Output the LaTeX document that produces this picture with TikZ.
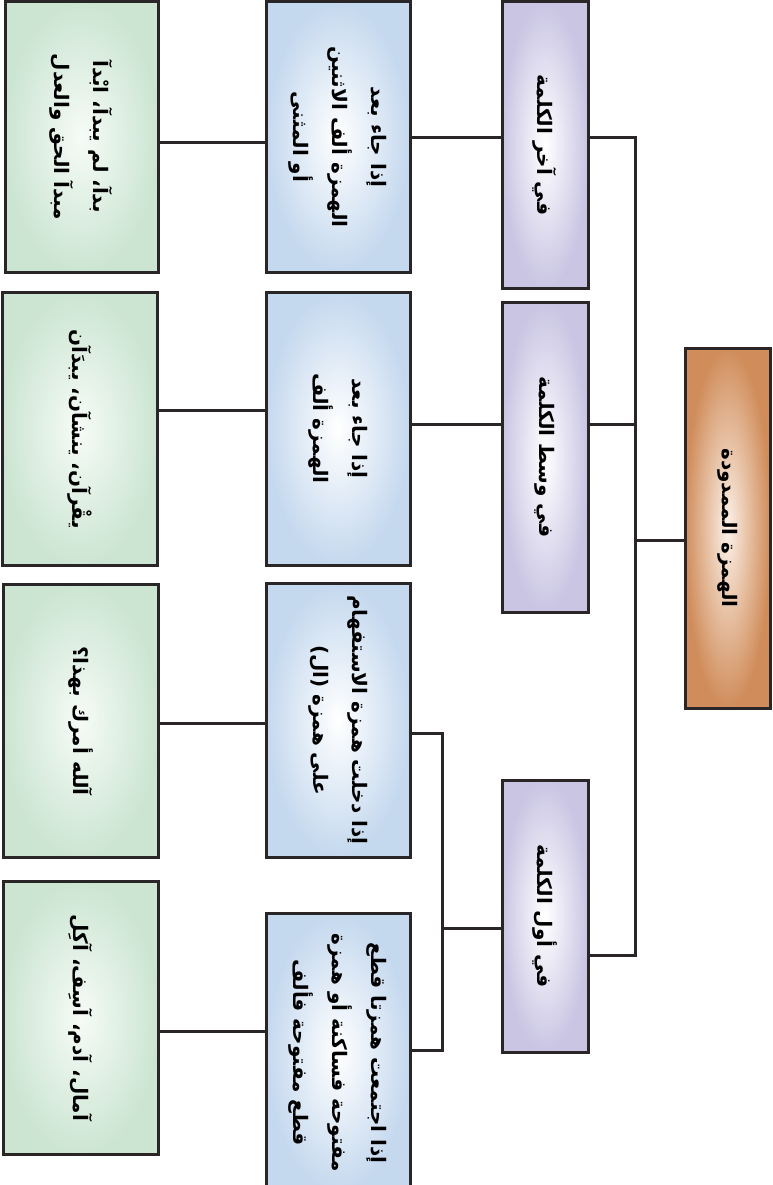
\documentclass[tikz,border=0pt]{standalone}
\usepackage{fontspec}
\newfontfamily\arabicfont[Script=Arabic,BoldFont={DejaVu Sans Bold}]{DejaVu Sans}
\TeXXeTstate=1
\newcommand\ar[1]{\beginR #1\endR}
\definecolor{edge}{HTML}{2A2627}
\definecolor{rootc}{HTML}{D08D5B}
\definecolor{rootin}{HTML}{FCF1E8}
\definecolor{placec}{HTML}{C9C5E3}
\definecolor{rulec}{HTML}{C4D8EE}
\definecolor{examplec}{HTML}{CCE5D2}
\definecolor{examplein}{HTML}{F6FBF7}

\begin{document}
\begin{tikzpicture}[x=1pt,y=-1pt,
    box/.style={draw=edge,line width=3pt,rotate=-90,align=center,shade,shading=radial,
      inner color=white,inner sep=2pt,font=\arabicfont\bfseries\fontsize{20}{39}\selectfont},
    rootbox/.style={box,outer color=rootc,inner color=rootin},
    placebox/.style={box,outer color=placec},
    rulebox/.style={box,outer color=rulec},
    examplebox/.style={box,outer color=examplec,inner color=examplein},
    link/.style={draw=edge,line width=3pt}]
  \useasboundingbox (0,0) rectangle (772,1185);

  % root
  \node[rootbox,minimum width=360pt,minimum height=85pt] (root) at (727.5,528) {\ar{الهمزة الممدودة}};

  % where in the word
  \node[placebox,minimum width=286pt,minimum height=86pt] (end) at (545,145) {\ar{في آخر الكلمة}};
  \node[placebox,minimum width=310pt,minimum height=86pt] (mid) at (545,457) {\ar{في وسط الكلمة}};
  \node[placebox,minimum width=272pt,minimum height=86pt] (start) at (545,916) {\ar{في أول الكلمة}};

  % rules
  \node[rulebox,minimum width=270pt,minimum height=144pt] (r1) at (338,137)
    {\ar{إذا جاء بعد}\\\ar{الهمزة ألف الاثنين}\\\ar{أو المثنى}};
  \node[rulebox,minimum width=273pt,minimum height=144pt] (r2) at (338,428.5)
    {\ar{إذا جاء بعد}\\\ar{الهمزة ألف}};
  \node[rulebox,minimum width=274pt,minimum height=144pt] (r3) at (338,720)
    {\ar{إذا دخلت همزة الاستفهام}\\\ar{على همزة (ال)}};
  \node[rulebox,minimum width=280pt,minimum height=144pt] (r4) at (338,1053)
    {\ar{إذا اجتمعت همزتا قطع}\\\ar{مفتوحة فساكنة أو همزة}\\\ar{قطع مفتوحة فألف}};

  % examples
  \node[examplebox,minimum width=270pt,minimum height=153pt] (e1) at (81.5,137)
    {\ar{بدآ، لم يبدآ، ابْدآ}\\\ar{مبدآ الحق والعدل}};
  \node[examplebox,minimum width=273pt,minimum height=155pt] (e2) at (79.5,429)
    {\ar{يقْرآن، ينشآن، يبدَآن}};
  \node[examplebox,minimum width=273pt,minimum height=155pt] (e3) at (80.5,721)
    {\ar{آلله أمرك بهذا؟}};
  \node[examplebox,minimum width=273pt,minimum height=155pt] (e4) at (80.5,1018)
    {\ar{آمال، آدم، آسِف، آكِل}};

  % connectors
  \coordinate (spT) at (635,138);
  \coordinate (spM) at (635,424);
  \coordinate (spR) at (635,540);
  \coordinate (spB) at (635,955);
  \draw[link] (spT -| end.north) -- (spT) -- (spB) -- (spB -| start.north);
  \draw[link] (spM) -- (spM -| mid.north);
  \draw[link] (spR) -- (spR -| root.south);
  \draw[link] (spT -| end.south) -- (spT -| r1.north);
  \draw[link] (spM -| mid.south) -- (spM -| r2.north);

  \coordinate (sub) at (442,928);
  \coordinate (subT) at (442,733);
  \coordinate (subB) at (442,1050);
  \draw[link] (sub -| start.south) -- (sub);
  \draw[link] (subT -| r3.north) -- (subT) -- (subB) -- (subB -| r4.north);

  \foreach \r/\e/\y in {r1/e1/143, r2/e2/410, r3/e3/723, r4/e4/1031} {
    \coordinate (t) at (0,\y);
    \draw[link] (t -| \r.south) -- (t -| \e.north);
  }
\end{tikzpicture}
\end{document}
